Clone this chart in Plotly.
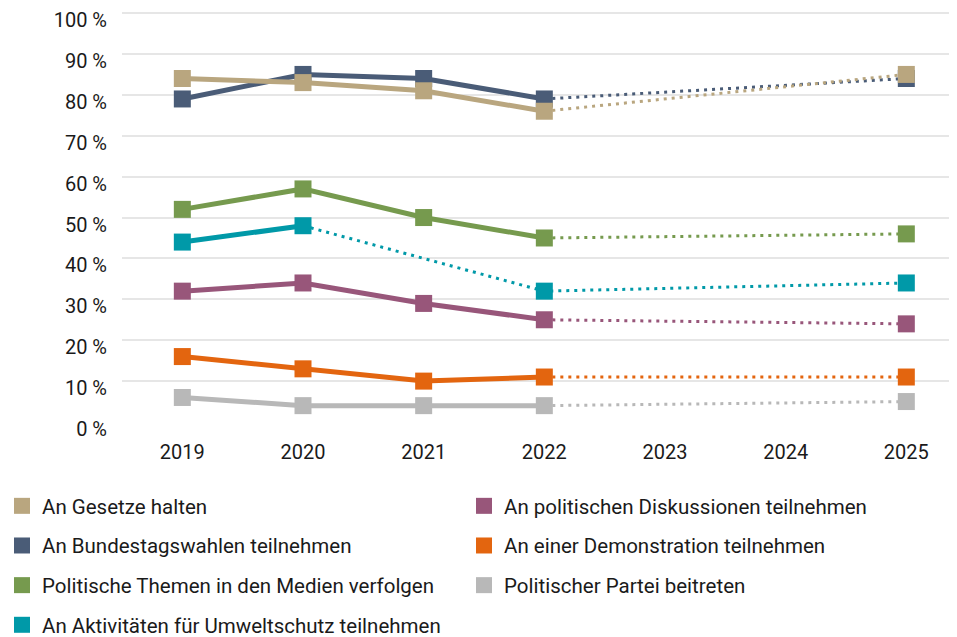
import plotly.graph_objects as go

years = [2019, 2020, 2021, 2022, 2023, 2024, 2025]

names = [
    "An Gesetze halten",
    "An Bundestagswahlen teilnehmen",
    "Politische Themen in den Medien verfolgen",
    "An Aktivitäten für Umweltschutz teilnehmen",
    "An politischen Diskussionen teilnehmen",
    "An einer Demonstration teilnehmen",
    "Politischer Partei beitreten",
]
colors = ["#b9a67f", "#4a5c77", "#769a4e", "#0099a8", "#98567a", "#e3650f", "#b8b8b8"]

gesetze = [84, 83, 81, 76, None, None, 85]
bundestag = [79, 85, 84, 79, None, None, 84]
medien = [52, 57, 50, 45, None, None, 46]
umwelt = [44, 48, None, 32, None, None, 34]
diskussion = [32, 34, 29, 25, None, None, 24]
demo = [16, 13, 10, 11, None, None, 11]
partei = [6, 4, 4, 4, None, None, 5]

series = [gesetze, bundestag, medien, umwelt, diskussion, demo, partei]
# last year of solid (observed continuous) segment
solid_end = [2022, 2022, 2022, 2020, 2022, 2022, 2022]

yticks = list(range(0, 101, 10))
ytick_text = [f"{v} %" for v in yticks]

FONT = "Roboto, sans-serif"
FS = 20
LFS = 20.5

fig = go.Figure()

draw_order = [6, 5, 4, 3, 2, 1, 0]
for i in draw_order:
    vals = series[i]
    pts = [(x, y) for x, y in zip(years, vals) if y is not None]
    solid = [(x, y) for x, y in pts if x <= solid_end[i]]
    dotted = [(x, y) for x, y in pts if x >= solid_end[i]]
    fig.add_trace(go.Scatter(
        x=[p[0] for p in dotted], y=[p[1] for p in dotted], mode="lines",
        line=dict(color=colors[i], width=3, dash="3px,5px"),
        showlegend=False, hoverinfo="skip"))
    fig.add_trace(go.Scatter(
        x=[p[0] for p in solid], y=[p[1] for p in solid], mode="lines",
        line=dict(color=colors[i], width=5),
        showlegend=False, hoverinfo="skip"))
    fig.add_trace(go.Scatter(
        x=[p[0] for p in pts], y=[p[1] for p in pts], mode="markers",
        marker=dict(symbol="square", size=17, color=colors[i]),
        showlegend=False, name=names[i]))

# legend entries
for i in range(7):
    fig.add_trace(go.Scatter(
        x=[None], y=[None], mode="markers", name=names[i],
        marker=dict(symbol="square", size=16, color=colors[i]),
        legend="legend" if i < 4 else "legend2",
        legendgroup=f"g{i}", showlegend=True))

legend_common = dict(
    orientation="v", yanchor="top", xanchor="left",
    font=dict(family=FONT, size=LFS, color="#1a1a1a"),
    tracegroupgap=10, bgcolor="rgba(0,0,0,0)", itemclick=False,
)

fig.update_layout(
    width=949, height=629,
    margin=dict(l=114, r=0, t=1, b=215, autoexpand=False),
    paper_bgcolor="white", plot_bgcolor="white",
    font=dict(family=FONT, size=FS, color="#1a1a1a"),
    xaxis=dict(range=[2018.5, 2025.42], tickvals=years, ticktext=[str(y) for y in years],
               showgrid=False, zeroline=False, showline=False, ticks="",
               tickfont=dict(size=FS), ticklabelstandoff=16),
    yaxis=dict(range=[0, 101], tickvals=yticks, ticktext=ytick_text,
               showgrid=True, gridcolor="#e6e6e6", gridwidth=1.5,
               zeroline=False, showline=False, ticks="",
               tickfont=dict(size=FS), ticklabelstandoff=14,
               ticklabelshift=7, ticklabeloverflow="allow"),
    legend=dict(x=-0.1437, y=-0.155, **legend_common),
    legend2=dict(x=0.4096, y=-0.155, **legend_common),
)

fig.write_html("out.html")
